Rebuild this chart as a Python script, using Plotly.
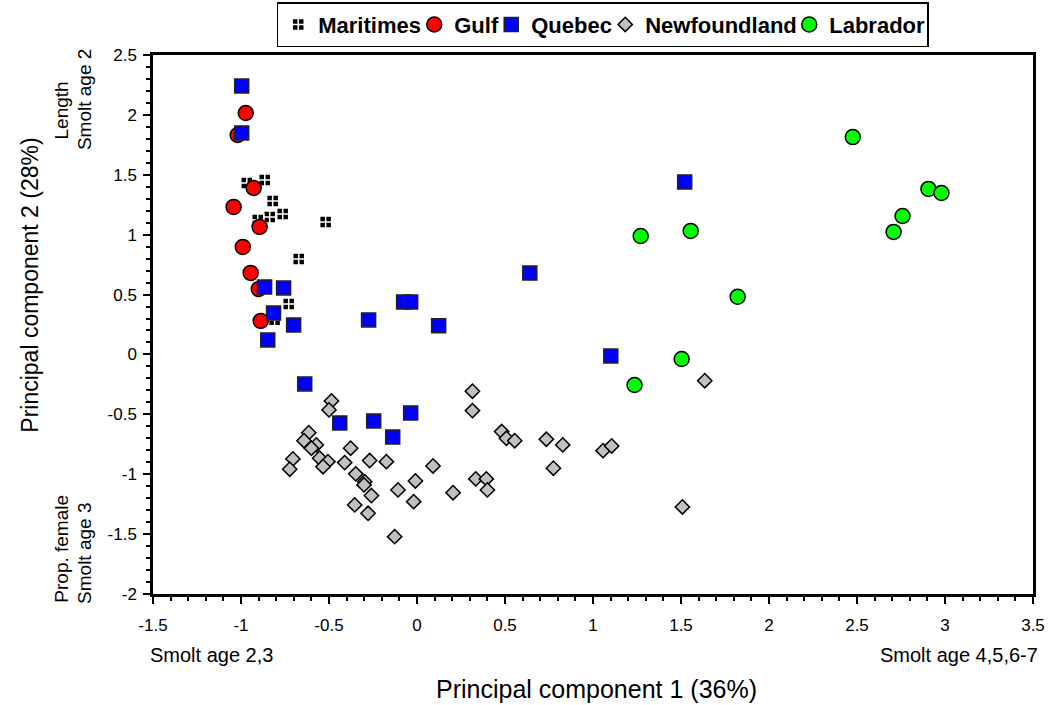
import plotly.graph_objects as go

# PCA scores by region (PC1, PC2)
maritimes_x = [-0.967, -0.865, -0.820, -0.763, -0.837, -0.905, -0.519, -0.672, -0.729, -0.809]
maritimes_y = [1.431, 1.457, 1.281, 1.173, 1.148, 1.123, 1.106, 0.797, 0.421, 0.289]

gulf_x = [-0.973, -1.019, -0.928, -1.042, -0.894, -0.990, -0.945, -0.899, -0.888]
gulf_y = [2.016, 1.832, 1.390, 1.232, 1.065, 0.898, 0.681, 0.547, 0.280]

quebec_x = [-0.996, -0.996, -0.866, -0.758, -0.815, -0.701, -0.848, -0.638, -0.439, -0.246,
            -0.036, -0.138, -0.275, -0.076, -0.036, 0.123, 0.641, 1.101, 1.521]
quebec_y = [2.241, 1.849, 0.563, 0.555, 0.346, 0.246, 0.121, -0.246, -0.572, -0.555,
            -0.489, -0.689, 0.288, 0.438, 0.438, 0.239, 0.680, -0.013, 1.440]

newfoundland_x = [-0.486, -0.500, -0.615, -0.642, -0.572, -0.600, -0.553, -0.506, -0.534, -0.705,
                  -0.723, -0.377, -0.411, -0.269, -0.174, -0.348, -0.297, -0.301, -0.259, -0.354,
                  -0.278, -0.127, -0.108, -0.009, -0.019, 0.091, 0.205, 0.315, 0.315, 0.481,
                  0.508, 0.555, 0.735, 0.828, 0.775, 1.057, 1.106, 0.334, 0.394, 0.400,
                  1.508, 1.635]
newfoundland_y = [-0.388, -0.463, -0.653, -0.720, -0.755, -0.783, -0.866, -0.895, -0.937, -0.872,
                  -0.958, -0.783, -0.903, -0.886, -0.895, -0.997, -1.062, -1.089, -1.178, -1.256,
                  -1.326, -1.521, -1.131, -1.056, -1.229, -0.931, -1.154, -0.307, -0.469, -0.644,
                  -0.700, -0.720, -0.708, -0.755, -0.950, -0.803, -0.764, -1.039, -1.039, -1.131,
                  -1.273, -0.219]

labrador_x = [2.476, 2.906, 2.980, 2.759, 2.708, 1.271, 1.555, 1.822, 1.504, 1.236]
labrador_y = [1.815, 1.382, 1.348, 1.156, 1.023, 0.989, 1.031, 0.482, -0.038, -0.255]

x_ticks = [-1.5, -1, -0.5, 0, 0.5, 1, 1.5, 2, 2.5, 3, 3.5]
y_ticks = [-2, -1.5, -1, -0.5, 0, 0.5, 1, 1.5, 2, 2.5]

FONT = "Liberation Sans, Arial, sans-serif"

fig = go.Figure()

fig.add_trace(go.Scatter(
    x=maritimes_x, y=maritimes_y, mode="markers", name="Maritimes", legendwidth=91,
    marker=dict(symbol="square-cross", size=12, color="black",
                line=dict(color="white", width=1.5))))
fig.add_trace(go.Scatter(
    x=gulf_x, y=gulf_y, mode="markers", name="Gulf", legendwidth=32,
    marker=dict(symbol="circle", size=15, color="#FF0000",
                line=dict(color="black", width=1.5))))
fig.add_trace(go.Scatter(
    x=quebec_x, y=quebec_y, mode="markers", name="Quebec", legendwidth=69,
    marker=dict(symbol="square", size=14, color="#0000FF",
                line=dict(color="#222222", width=1.5))))
fig.add_trace(go.Scatter(
    x=newfoundland_x, y=newfoundland_y, mode="markers", name="Newfoundland", legendwidth=139,
    marker=dict(symbol="diamond", size=11, color="#C0C0C0",
                line=dict(color="black", width=1.5))))
fig.add_trace(go.Scatter(
    x=labrador_x, y=labrador_y, mode="markers", name="Labrador", legendwidth=93,
    marker=dict(symbol="circle", size=15, color="#00FF00",
                line=dict(color="black", width=1.5))))

axis_common = dict(
    showgrid=False, zeroline=False, showline=True, linecolor="black", linewidth=2.5,
    mirror=True, ticks="outside", ticklen=7, tickwidth=2, tickcolor="black",
    tickfont=dict(family=FONT, size=17, color="black"),
    minor=dict(ticks="outside", ticklen=4, tickwidth=2, tickcolor="black"),
)

fig.update_xaxes(range=[-1.5, 3.5], tickvals=x_ticks, ticktext=[f"{v:g}" for v in x_ticks],
                 minor_dtick=0.1, ticklabelstandoff=7, **axis_common)
fig.update_yaxes(range=[-2, 2.5], tickvals=y_ticks, ticktext=[f"{v:g}" for v in y_ticks],
                 minor_dtick=0.1, ticklabelstandoff=3, **axis_common)

ann_font = dict(family=FONT, size=19, color="black")
annotations = [
    dict(text="Principal component 2 (28%)", x=-0.140, y=0.5735, textangle=-90,
         font=dict(family=FONT, size=23, color="black")),
    dict(text="Principal component 1 (36%)", x=0.504, y=-0.177,
         font=dict(family=FONT, size=25, color="black")),
    dict(text="Length", x=-0.104, y=0.898, textangle=-90, font=ann_font),
    dict(text="Smolt age 2", x=-0.078, y=0.917, textangle=-90, font=ann_font),
    dict(text="Prop. female", x=-0.104, y=0.085, textangle=-90, font=ann_font),
    dict(text="Smolt age 3", x=-0.078, y=0.075, textangle=-90, font=ann_font),
    dict(text="Smolt age 2,3", x=-0.006, y=-0.113, xanchor="left",
         font=dict(family=FONT, size=20, color="black")),
    dict(text="Smolt age 4,5,6-7", x=1.008, y=-0.113, xanchor="right",
         font=dict(family=FONT, size=20, color="black")),
]
for a in annotations:
    a.update(xref="paper", yref="paper", showarrow=False)
    a.setdefault("xanchor", "center")
    a.setdefault("yanchor", "middle")

fig.update_layout(
    width=1060, height=705,
    margin=dict(l=153, r=27, t=55, b=111, autoexpand=False),
    plot_bgcolor="white", paper_bgcolor="white",
    annotations=annotations,
    legend=dict(orientation="h", x=0.1406, xanchor="left", y=1.098, yanchor="top",
                font=dict(family=FONT, size=22, color="black", weight="bold"),
                bordercolor="black", borderwidth=1.5, bgcolor="white",
                itemwidth=30, tracegroupgap=0),
    showlegend=True,
)

fig.write_html("out.html")
